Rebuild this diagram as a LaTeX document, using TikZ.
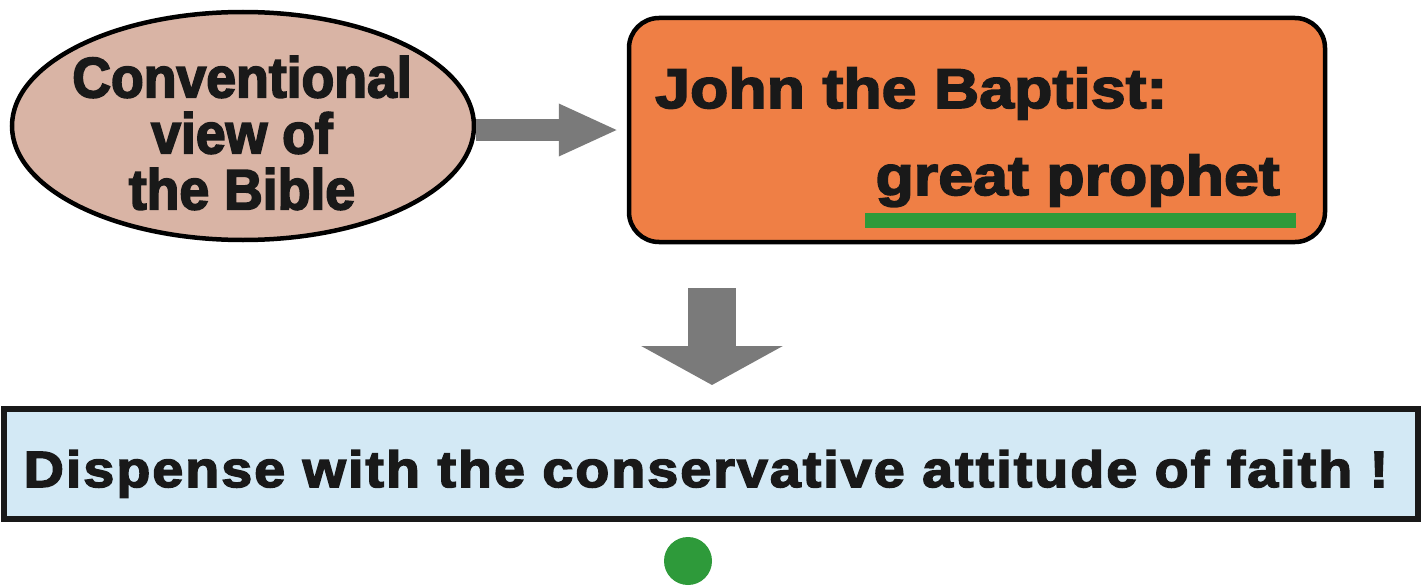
\documentclass[tikz,border=0pt]{standalone}
\usepackage{fontspec}
\usetikzlibrary{arrows.meta,shapes.geometric,calc}
\newfontfamily\ellfont{Liberation Sans}[FakeBold=3, FakeStretch=0.94]
\newfontfamily\boxfont{Liberation Sans}[FakeBold=3, FakeStretch=1.12]
\newfontfamily\widefont{Liberation Sans}[FakeBold=3, FakeStretch=1.09, LetterSpace=4]
\definecolor{ellfill}{HTML}{D9B4A5}
\definecolor{boxorange}{HTML}{EF7F45}
\definecolor{boxblue}{HTML}{D3E9F5}
\definecolor{arrgray}{HTML}{7A7A7A}
\definecolor{mygreen}{HTML}{2E9A3A}
\tikzset{
  ellnode/.style={ellipse, draw=black, line width=4.5pt, fill=ellfill, minimum width=462pt, minimum height=228pt, inner sep=0pt},
  orangebox/.style={rectangle, rounded corners=30pt, draw=black, line width=4.5pt, fill=boxorange, minimum width=696pt, minimum height=224pt, inner sep=0pt},
  bluebox/.style={rectangle, draw=black!90, line width=6pt, fill=boxblue, minimum width=1414pt, minimum height=110pt, inner sep=0pt},
  bigarrow/.style={draw=arrgray, line cap=butt},
  txt/.style={inner sep=0pt, text=black!90}
}
\begin{document}
\begin{tikzpicture}[x=1pt,y=-1pt]
\useasboundingbox (0,0) rectangle (1424,586);
% nodes
\node[ellnode] (ell) at (243,126) {};
\node[orangebox] (box) at (977,130) {};
\node[bluebox] (bot) at (711,464) {};
\coordinate (dx) at (712,0);
% texts
\node[txt, align=center, font=\ellfont\bfseries\fontsize{57pt}{56pt}\selectfont] (elltext) at (242,133) {Conventional\\view of\\the Bible};
\node[txt, anchor=base west, font=\boxfont\bfseries\fontsize{56pt}{60pt}\selectfont] (john) at (655,108) {John the Baptist:};
\node[txt, anchor=base east, font=\boxfont\bfseries\fontsize{56pt}{60pt}\selectfont] (great) at (1280,195) {great prophet};
\fill[mygreen] (865,213) rectangle (1296,228);
\node[txt, anchor=base, font=\widefont\bfseries\fontsize{51pt}{55pt}\selectfont] (disp) at (706,487) {Dispense with the conservative attitude of faith !};
% connectors
\draw[bigarrow, line width=22pt, -{Triangle[length=60pt,width=48pt]}, shorten >=8pt]
  (ell.east |- box.west) -- (box.west);
\draw[bigarrow, line width=48pt, -{Triangle[length=39pt,width=140pt]}, shorten <=44pt, shorten >=21pt]
  (box.south -| dx) -- (bot.north -| dx);
% dot
\fill[mygreen] (688,561) circle (24pt) node (dot) {};
\end{tikzpicture}
\end{document}
